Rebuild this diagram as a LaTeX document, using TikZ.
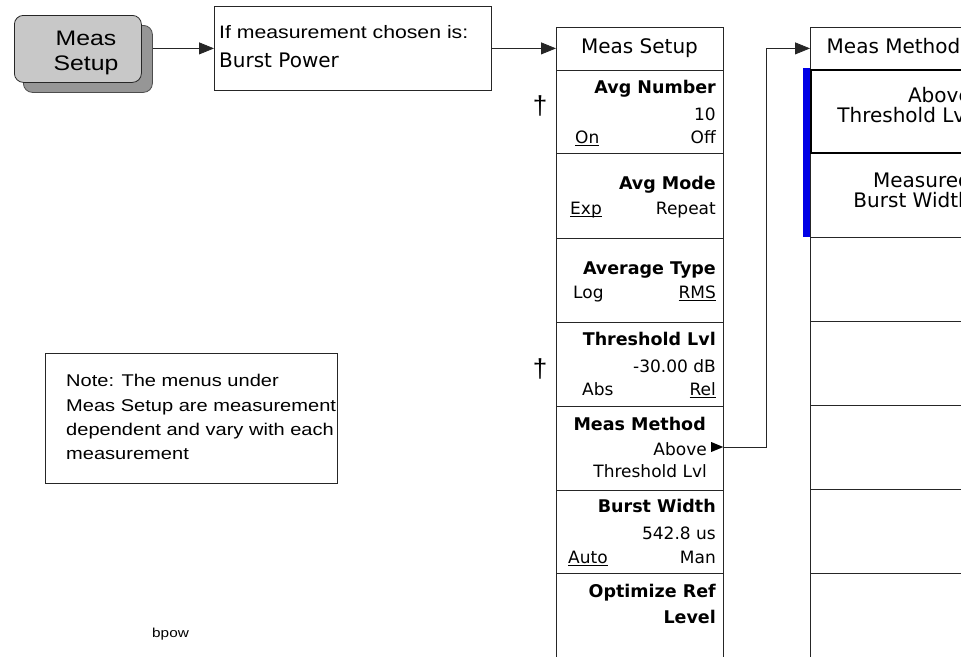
\documentclass[tikz,border=0pt]{standalone}
\usepackage{fontspec}
\setmainfont{Liberation Sans}
\newfontfamily\boxfont[FakeStretch=1.18]{Liberation Sans}
\newfontfamily\skfont{DejaVu Sans}
\usetikzlibrary{arrows.meta,shapes.geometric}
\newcommand\undl[1]{\setbox0\hbox{#1}\rlap{\rule[-2.5pt]{\wd0}{0.8pt}}\box0}
\definecolor{keyface}{RGB}{200,200,200}
\definecolor{keyshadow}{RGB}{150,150,150}
\definecolor{selblue}{RGB}{0,0,230}
\tikzset{
  lin/.style={draw=black!85, line width=0.8pt},
  arr/.style={lin, -{Triangle[length=15pt,width=12pt]}},
  menubox/.style={lin, fill=white, rectangle, inner sep=0pt, minimum width=167pt, anchor=north west},
  ttl/.style={font=\skfont\bfseries\fontsize{17.5}{20}\selectfont, inner sep=0pt, anchor=base east},
  sub/.style={font=\skfont\fontsize{17}{20}\selectfont, inner sep=0pt, anchor=base east},
  subl/.style={sub, anchor=base west},
  hdr/.style={font=\skfont\fontsize{20}{24}\selectfont, inner sep=0pt, anchor=base},
  hdrr/.style={font=\skfont\fontsize{20}{24}\selectfont, inner sep=0pt, anchor=base east},
  txt/.style={font=\boxfont\fontsize{17}{20}\selectfont, inner sep=0pt, anchor=base west},
  dagger/.style={font=\fontsize{26}{28}\selectfont, inner sep=0pt},
}
\begin{document}
\begin{tikzpicture}[x=1pt,y=-1pt]
\useasboundingbox (0,0) rectangle (961,656);
\clip (0,0) rectangle (961,656);
% Meas Setup hard key
\node[lin, draw=black!70, fill=keyshadow, rounded corners=9pt, minimum width=129pt, minimum height=67pt, inner sep=0pt, anchor=north west] (keyS) at (23,25) {};
\node[lin, fill=keyface, rounded corners=9pt, minimum width=127pt, minimum height=67pt, inner sep=0pt, anchor=north west] (keyF) at (14,15) {};
\node[font=\boxfont\fontsize{21}{24}\selectfont, inner sep=0pt, anchor=base] (keyT1) at (86,45) {Meas};
\node[font=\boxfont\fontsize{21}{24}\selectfont, inner sep=0pt, anchor=base] (keyT2) at (86,70) {Setup};
% condition box
\node[lin, rectangle, inner sep=0pt, minimum width=277pt, minimum height=84pt, anchor=north west] (cond) at (214,6) {};
\node[font=\boxfont\fontsize{18}{20}\selectfont, inner sep=0pt, anchor=base west] (condT1) at (219,38) {If measurement chosen is:};
\node[font=\skfont\fontsize{20}{24}\selectfont, inner sep=0pt, anchor=base west] (condT2) at (219,67) {Burst Power};
% Meas Setup menu
\node[menubox, minimum height=43pt] (msHead) at (556,27) {};
\node[hdr] (msHeadT) at (639.5,53) {Meas Setup};
\node[menubox, minimum height=83pt] (k1) at (556,70) {};
\node[menubox, minimum height=85pt] (k2) at (556,153) {};
\node[menubox, minimum height=84pt] (k3) at (556,238) {};
\node[menubox, minimum height=84pt] (k4) at (556,322) {};
\node[menubox, minimum height=84pt] (k5) at (556,406) {};
\node[menubox, minimum height=83pt] (k6) at (556,490) {};
\node[menubox, minimum height=90pt] (k7) at (556,573) {};
% key 1
\node[ttl] (k1a) at (716,93) {Avg Number};
\node[sub] (k1b) at (716,120) {10};
\node[subl] (k1c) at (575,143) {\undl{On}};
\node[sub] (k1d) at (716,143) {Off};
% key 2
\node[ttl] (k2a) at (716,189) {Avg Mode};
\node[subl] (k2b) at (570,214) {\undl{Exp}};
\node[sub] (k2c) at (716,214) {Repeat};
% key 3
\node[ttl] (k3a) at (716,274) {Average Type};
\node[subl] (k3b) at (573,298) {Log};
\node[sub] (k3c) at (716,298) {\undl{RMS}};
% key 4
\node[ttl] (k4a) at (716,345) {Threshold Lvl};
\node[sub] (k4b) at (716,372) {-30.00 dB};
\node[subl] (k4c) at (582,395) {Abs};
\node[sub] (k4d) at (716,395) {\undl{Rel}};
% key 5
\node[ttl] (k5a) at (706,430) {Meas Method};
\node[sub] (k5b) at (707,455) {Above};
\node[sub] (k5c) at (707,477) {Threshold Lvl};
\node[isosceles triangle, fill=black, inner sep=0pt, minimum height=8pt, minimum width=10pt, anchor=west] (mmTri) at (711,447) {};
% key 6
\node[ttl] (k6a) at (716,512) {Burst Width};
\node[sub] (k6b) at (716,539) {542.8 us};
\node[subl] (k6c) at (568,563) {\undl{Auto}};
\node[sub] (k6d) at (716,563) {Man};
% key 7
\node[ttl] (k7a) at (716,597) {Optimize Ref};
\node[ttl] (k7b) at (716,623) {Level};
% daggers
\node[dagger] (dag1) at (540,106) {†};
\node[dagger] (dag2) at (540,369) {†};
% Meas Method menu
\node[menubox, minimum height=42pt] (mmHead) at (810,27) {};
\node[hdr] (mmHeadT) at (893.5,53) {Meas Method};
\node[menubox, minimum height=168pt] (mmAll) at (810,69) {};
\node[menubox, minimum height=84pt] (m3) at (810,237) {};
\node[menubox, minimum height=84pt] (m4) at (810,321) {};
\node[menubox, minimum height=84pt] (m5) at (810,405) {};
\node[menubox, minimum height=84pt] (m6) at (810,489) {};
\node[menubox, minimum height=90pt] (m7) at (810,573) {};
\node[menubox, draw=black, line width=2pt, minimum height=83pt] (m1) at (810,69) {};
\node[rectangle, fill=selblue, inner sep=0pt, minimum width=7pt, minimum height=169pt, anchor=north west] (selbar) at (803,68) {};
\node[hdrr] (m1a) at (971,102) {Above};
\node[hdrr] (m1b) at (971,122) {Threshold Lvl};
\node[hdrr] (m2a) at (971,187) {Measured};
\node[hdrr] (m2b) at (971,207) {Burst Width};
% note
\node[lin, rectangle, inner sep=0pt, minimum width=292pt, minimum height=130pt, anchor=north west] (note) at (45,353) {};
\node[txt] (n1) at (66,386) {Note: The menus under};
\node[txt] (n2) at (66,411) {Meas Setup are measurement};
\node[txt] (n3) at (66,435) {dependent and vary with each};
\node[txt] (n4) at (66,459) {measurement};
\node[font=\boxfont\fontsize{13}{15}\selectfont, inner sep=0pt, anchor=base west] (bpow) at (152,637) {bpow};
% connectors
\coordinate (bend) at (766,0);
\draw[arr] (cond.west -| keyS.east) -- (cond.west);
\draw[arr] (cond.east) -- (cond.east -| msHead.west);
\draw[arr] (mmTri.east) -- (mmTri.east -| bend) -- (bend |- mmHead.west) -- (mmHead.west);
\end{tikzpicture}
\end{document}
